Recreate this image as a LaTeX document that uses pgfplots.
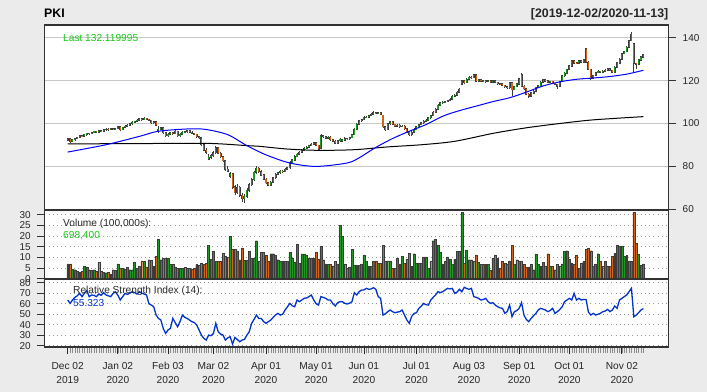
\documentclass[border=0pt]{standalone}
\usepackage{pgfplots}
\pgfplotsset{compat=1.18}
\usepackage{pgfplotstable}
\usepackage{fontspec}
\setmainfont{Liberation Sans}
\definecolor{bg}{RGB}{235,235,235}
\definecolor{upc}{RGB}{34,150,34}
\definecolor{dnc}{RGB}{210,100,30}
\definecolor{wick}{RGB}{60,60,60}
\definecolor{gridc}{RGB}{200,200,200}
\definecolor{rsic}{RGB}{0,51,204}
\definecolor{txtgreen}{RGB}{20,200,20}

\pgfplotstableread{
i o h l c v r
0 92.3 93.4 91.8 93.0 6.9 63.5
1 93.0 93.3 91.2 91.6 6.9 60.3
2 91.6 92.9 91.3 92.4 4.5 63.5
3 92.4 93.4 92.0 93.0 4.2 66.0
4 93.0 93.9 92.7 93.6 3.4 67.5
5 93.6 94.7 93.3 94.3 3.0 69.8
6 94.3 94.7 93.7 94.1 3.4 66.7
7 94.1 95.2 93.8 94.8 5.8 70.0
8 94.8 95.8 94.4 95.4 5.5 72.4
9 95.4 95.8 94.8 95.2 4.2 66.7
10 95.2 96.2 94.9 95.8 4.0 68.3
11 95.8 96.7 95.5 96.3 4.2 68.0
12 96.3 96.6 95.5 95.9 3.6 66.7
13 95.9 97.0 95.6 96.6 7.8 69.2
14 96.6 96.9 96.0 96.3 3.4 68.0
15 96.3 97.4 96.0 97.0 3.0 70.5
16 97.0 97.8 96.7 97.4 2.8 68.3
17 97.4 97.7 96.8 97.2 3.0 67.5
18 97.2 98.0 96.9 97.6 2.2 66.7
19 97.6 97.9 96.9 97.3 4.2 69.8
20 97.3 98.0 97.0 97.6 4.0 71.4
21 97.6 99.0 97.3 98.6 6.9 68.0
22 98.6 98.8 96.8 97.2 5.0 63.5
23 97.2 98.6 96.9 98.2 5.0 66.7
24 98.2 99.2 97.9 98.8 4.5 69.8
25 98.8 99.6 98.4 99.2 5.2 68.9
26 99.2 100.2 98.9 99.8 4.2 70.0
27 99.8 101.0 99.5 100.6 4.2 71.4
28 100.6 101.4 100.2 101.0 7.8 70.5
29 101.0 102.0 100.7 101.6 5.0 69.2
30 101.6 102.7 101.3 102.2 5.8 71.4
31 102.2 102.6 101.4 101.8 8.4 70.0
32 101.8 102.9 101.5 102.4 8.0 69.2
33 102.4 102.7 101.5 101.9 5.5 68.3
34 101.9 102.2 101.1 101.5 8.9 60.0
35 101.5 101.8 100.0 100.4 8.6 58.7
36 100.4 101.3 100.0 100.8 6.0 57.1
37 100.8 101.1 98.8 99.2 10.5 49.2
38 96.8 99.0 95.6 97.4 18.6 46.0
39 97.4 98.5 97.0 98.0 8.9 44.4
40 98.0 98.3 95.4 95.8 9.7 36.5
41 95.8 96.2 93.6 94.2 9.7 31.7
42 94.2 95.4 93.8 95.0 9.4 35.0
43 95.0 96.2 94.7 95.8 6.6 36.5
44 95.8 96.2 94.9 95.3 6.6 46.0
45 95.3 96.8 95.0 96.3 5.5 42.0
46 96.3 96.6 93.8 94.2 4.8 38.1
47 94.2 95.4 93.9 95.0 5.0 42.9
48 95.0 96.3 94.7 95.9 4.8 49.2
49 95.9 96.5 95.5 96.1 5.2 47.0
50 96.1 96.9 95.8 96.5 5.0 46.0
51 96.5 96.8 95.6 96.0 5.0 44.4
52 96.0 96.3 95.0 95.4 4.5 42.9
53 95.4 95.8 94.6 95.0 5.0 42.0
54 95.0 95.3 93.4 93.8 6.6 39.7
55 93.8 94.2 92.9 93.3 6.2 34.9
56 93.3 93.6 89.8 90.2 7.3 30.0
57 90.2 90.6 87.0 87.6 6.6 27.0
58 87.6 88.4 86.0 86.5 7.3 25.4
59 83.4 85.6 82.8 84.2 15.6 30.2
60 84.2 85.6 83.6 85.0 9.0 29.5
61 85.0 87.0 84.6 86.4 12.8 31.7
62 86.4 89.4 86.0 88.8 8.1 41.3
63 88.8 89.0 85.8 86.2 8.1 33.3
64 86.2 86.6 84.0 84.5 8.1 31.0
65 84.5 85.0 82.0 82.6 12.0 30.2
66 82.6 83.0 78.0 78.6 10.5 25.4
67 78.6 80.4 77.2 77.8 10.0 27.5
68 75.5 77.6 74.8 76.6 19.8 28.6
69 76.6 77.0 69.6 70.4 13.6 21.6
70 70.4 71.2 66.8 67.8 13.6 27.9
71 67.8 71.6 67.0 70.2 13.0 26.0
72 70.2 70.8 65.8 66.5 8.9 23.8
73 66.5 67.4 63.2 65.0 14.4 25.4
74 65.0 67.0 63.0 66.2 8.6 26.0
75 66.2 70.0 65.4 68.9 8.6 30.0
76 68.9 72.4 68.0 71.5 12.8 33.3
77 71.5 74.6 70.8 73.8 9.5 41.3
78 73.8 77.8 73.2 77.2 9.5 45.0
79 77.2 80.2 76.6 79.2 17.8 49.2
80 79.2 79.8 77.0 77.6 8.1 46.0
81 77.6 78.2 75.4 76.0 12.3 46.0
82 76.0 76.5 73.6 74.1 12.3 43.0
83 74.1 74.6 71.8 72.3 11.0 41.3
84 72.3 72.8 70.8 71.3 8.1 42.9
85 71.3 73.2 70.9 72.6 11.7 44.4
86 72.6 75.3 72.2 74.8 11.7 47.0
87 74.8 76.9 74.3 76.4 11.0 49.2
88 76.4 77.6 75.8 77.0 8.9 50.8
89 77.0 78.4 76.6 77.8 8.1 49.2
90 77.8 78.2 77.0 77.5 8.1 50.0
91 77.5 79.1 77.2 78.6 8.1 54.0
92 78.6 79.8 78.2 79.3 8.1 57.1
93 79.3 82.3 79.0 81.8 12.3 60.3
94 81.8 83.6 81.4 83.0 9.7 58.0
95 83.0 85.2 82.6 84.6 7.5 57.1
96 84.6 86.2 84.2 85.6 16.2 63.5
97 85.6 87.2 85.2 86.6 7.3 61.9
98 86.6 88.2 86.2 87.6 11.6 63.5
99 87.6 88.9 87.2 88.4 11.6 65.1
100 88.4 89.4 88.0 88.9 11.0 65.5
101 88.9 90.2 88.5 89.7 9.7 66.7
102 89.7 90.9 89.3 90.4 9.7 68.3
103 90.4 91.4 90.0 90.9 9.7 63.5
104 90.9 91.2 89.4 89.8 12.3 60.0
105 89.8 90.2 87.4 88.0 9.0 58.7
106 88.4 95.0 88.0 94.3 15.2 66.7
107 94.3 94.8 93.2 93.8 8.9 66.0
108 93.8 94.2 92.6 93.1 7.0 65.1
109 93.1 94.2 92.8 93.6 6.6 63.5
110 93.6 94.0 92.0 92.4 6.6 63.5
111 92.4 92.8 91.3 91.8 6.0 60.0
112 91.8 92.2 90.4 90.9 8.1 57.8
113 90.9 92.5 90.6 92.0 7.0 61.0
114 92.0 93.3 91.6 92.7 25.0 61.9
115 91.8 93.0 91.5 92.3 19.8 61.9
116 92.3 93.5 92.0 93.0 6.6 60.3
117 93.0 93.3 92.4 92.8 5.0 59.7
118 92.8 93.9 92.5 93.4 5.5 60.5
119 93.4 95.3 93.1 94.8 13.9 61.9
120 94.8 97.9 94.5 97.4 6.3 70.5
121 97.4 100.1 97.1 99.6 6.3 68.3
122 99.6 101.7 99.3 101.2 6.3 71.4
123 101.2 102.3 100.8 101.8 7.0 73.0
124 101.8 103.3 101.5 102.8 11.2 73.0
125 102.8 103.5 102.4 103.0 8.1 74.6
126 103.0 104.1 102.7 103.6 5.8 73.7
127 103.6 104.8 103.3 104.3 5.8 74.0
128 104.3 105.6 104.0 105.1 8.4 75.2
129 105.1 105.5 104.3 104.7 8.4 73.7
130 104.7 105.5 104.3 105.0 7.3 66.7
131 105.0 105.3 103.8 104.2 7.3 65.1
132 103.8 104.0 97.8 98.4 15.6 49.2
133 98.4 98.8 96.6 97.2 8.4 50.5
134 97.2 100.3 96.9 99.8 8.4 52.4
135 99.8 101.4 99.4 100.8 8.4 54.0
136 100.8 101.2 99.2 99.6 5.0 52.4
137 99.6 100.0 98.3 98.7 5.0 51.4
138 98.7 99.7 98.4 99.2 9.7 52.0
139 99.2 99.6 98.1 98.5 7.0 52.4
140 98.5 99.3 98.2 98.8 10.5 54.0
141 98.8 99.2 97.1 97.5 7.3 49.2
142 97.5 97.9 95.8 96.2 9.0 44.4
143 96.2 96.6 94.0 94.8 12.0 41.3
144 94.8 96.5 94.4 96.0 5.8 48.0
145 96.0 97.7 95.7 97.2 11.7 50.8
146 97.2 98.9 96.9 98.4 7.3 51.4
147 98.4 99.9 98.1 99.4 7.3 55.6
148 99.4 100.8 99.1 100.3 7.3 57.5
149 100.3 101.5 100.0 101.0 10.2 60.3
150 101.0 102.1 100.7 101.6 10.2 59.0
151 101.6 103.1 101.3 102.6 5.0 58.7
152 102.6 104.1 102.3 103.6 8.0 63.5
153 103.6 105.7 103.3 105.2 17.8 66.0
154 105.2 107.1 104.9 106.6 18.3 68.3
155 106.6 109.1 106.3 108.6 15.9 71.4
156 108.6 110.2 108.3 109.7 12.5 70.5
157 109.7 110.4 109.3 109.9 6.9 71.5
158 109.9 110.7 109.5 110.2 8.0 73.0
159 110.2 111.1 109.9 110.6 10.2 74.6
160 110.6 111.9 110.3 111.4 9.2 74.0
161 111.4 113.1 111.1 112.6 6.6 74.6
162 112.6 113.7 112.3 113.2 9.0 69.8
163 113.2 115.1 112.8 114.6 12.8 71.0
164 114.6 116.5 114.2 116.0 12.8 73.7
165 118.4 120.4 117.8 119.8 31.0 71.4
166 119.8 120.2 118.6 119.0 7.3 75.6
167 119.0 121.1 118.7 120.6 13.3 74.5
168 120.6 122.1 120.3 121.6 8.9 73.7
169 121.6 122.0 121.0 121.4 8.9 74.6
170 121.4 123.1 121.1 122.6 8.0 66.7
171 122.6 123.0 119.4 119.8 11.2 66.0
172 119.8 120.8 119.5 120.3 7.7 65.1
173 120.3 120.6 119.2 119.6 6.6 63.5
174 119.6 120.3 119.3 119.9 6.6 64.0
175 119.9 120.2 119.1 119.5 6.6 65.1
176 119.5 120.3 119.2 119.9 6.6 61.9
177 119.9 120.2 118.9 119.3 3.8 60.3
178 119.3 120.2 119.0 119.8 9.7 61.0
179 119.8 120.1 118.8 119.2 11.2 58.7
180 119.2 119.5 118.2 118.6 9.7 57.1
181 118.6 118.9 118.0 118.4 5.0 56.0
182 118.4 118.7 117.4 117.8 8.1 55.6
183 117.8 118.1 116.8 117.2 7.3 50.8
184 117.2 117.5 116.2 116.6 7.0 52.5
185 116.6 119.5 116.3 119.0 8.4 58.7
186 119.0 119.3 112.6 115.8 15.5 47.6
187 115.8 117.7 115.5 117.2 6.6 52.4
188 117.2 118.9 116.9 118.4 8.9 53.5
189 118.4 121.2 118.1 120.8 8.0 55.6
190 122.8 123.6 117.0 117.4 8.4 61.0
191 117.4 117.8 115.8 116.2 6.6 49.2
192 116.2 116.6 113.2 113.6 5.3 45.0
193 113.6 114.0 112.0 112.8 5.5 42.9
194 112.8 114.6 112.5 114.2 6.6 46.0
195 114.2 115.4 113.9 115.0 4.2 48.5
196 115.0 117.2 114.7 116.8 11.6 50.8
197 116.8 118.0 116.5 117.6 6.6 54.0
198 117.6 119.6 117.3 119.2 6.0 55.6
199 119.2 120.8 118.9 120.4 7.7 54.8
200 120.4 120.7 119.4 119.8 6.0 54.0
201 119.8 120.1 118.8 119.2 11.7 52.4
202 119.2 120.0 118.9 119.6 6.0 53.5
203 119.6 119.9 118.4 118.8 5.8 55.6
204 118.8 119.1 117.8 118.2 4.2 50.8
205 118.2 118.5 116.0 117.4 6.6 52.4
206 117.4 120.0 117.1 119.6 5.8 54.5
207 119.6 122.6 119.3 122.2 7.0 57.1
208 122.2 123.8 121.9 123.4 12.8 61.9
209 123.4 125.6 123.1 125.2 13.1 63.5
210 125.2 127.2 124.9 126.8 9.1 65.1
211 126.8 129.6 126.5 129.2 7.3 63.5
212 129.2 129.5 127.8 128.2 7.0 69.8
213 128.2 128.5 127.6 128.0 11.2 63.5
214 128.0 129.6 127.7 129.2 5.0 65.1
215 129.2 129.5 128.2 128.6 7.3 63.5
216 128.6 130.2 128.3 129.8 8.0 64.0
217 134.8 135.2 128.2 128.6 13.6 64.0
218 128.6 129.0 124.8 125.2 14.4 52.0
219 125.2 125.6 120.1 121.0 13.1 49.2
220 121.0 122.8 120.6 122.4 5.8 50.8
221 122.4 124.0 122.1 123.6 7.0 49.2
222 123.6 124.7 123.3 124.3 11.7 50.0
223 124.3 124.6 123.4 123.8 8.1 50.8
224 123.8 124.8 123.5 124.4 5.8 52.4
225 124.4 125.3 124.1 124.9 8.1 53.0
226 124.9 125.8 124.6 125.4 6.0 54.6
227 125.4 125.7 124.4 124.8 5.8 52.4
228 124.8 125.1 123.4 123.8 10.5 54.0
229 123.8 126.6 123.5 126.2 12.0 57.8
230 126.2 128.6 125.9 128.2 15.6 55.6
231 128.2 130.4 127.9 130.0 15.2 63.5
232 130.0 133.0 129.7 132.6 15.2 65.0
233 132.6 133.8 132.3 133.4 10.5 66.7
234 133.4 136.0 133.1 135.6 10.8 68.3
235 135.6 139.0 135.3 138.6 8.4 71.4
236 138.6 142.6 138.3 141.6 8.1 74.6
237 137.2 137.6 123.9 128.0 31.25 47.6
238 128.0 128.4 125.5 127.6 16.7 49.2
239 127.6 130.0 127.2 129.6 11.6 51.5
240 129.6 131.4 129.2 131.0 6.25 54.0
241 131.0 132.6 130.6 132.12 6.984 55.323
}\pk

\begin{document}
\begin{tikzpicture}
\fill[bg] (0bp,0bp) rectangle (707bp,392bp);
\useasboundingbox (0bp,0bp) rectangle (707bp,392bp);
\pgfplotsset{
  every axis/.append style={
    scale only axis, width=624.4bp, xmin=-9.8, xmax=251.6,
    axis line style={draw=black!80, line width=1.2bp},
    axis background/.style={fill=white},
    tick align=outside,
    /pgf/number format/assume math mode=true,
    tick label style={font=\fontsize{10}{12}\selectfont, text=black!85},
    major tick length=7bp,
    ytick style={draw=black!80, line width=0.8bp},
  }
}
% ---------------- main price panel
\begin{axis}[at={(44.3bp,182bp)}, anchor=south west, height=185bp,
  ymin=59.7, ymax=145.9, xtick=\empty,
  ytick={60,80,...,140}, ytick pos=right, yticklabel pos=right,
  yticklabel style={xshift=3.5bp},
  ymajorgrids, grid style={draw=gridc, line width=0.9bp}]
% wicks
\addplot[draw=none, mark=none, forget plot,
  error bars/.cd, y dir=both, y explicit, error mark=none,
  error bar style={draw=wick, line width=0.7bp}]
  table[x=i, y=c, y error plus expr=\thisrow{h}-\thisrow{c},
        y error minus expr=\thisrow{c}-\thisrow{l}] {\pk};
% up bodies
\addplot[draw=none, mark=none, forget plot,
  restrict expr to domain={\thisrow{c}-\thisrow{o}}{0:1000},
  error bars/.cd, y dir=minus, y explicit, error mark=none,
  error bar style={draw=wick, line width=2.0bp}]
  table[x=i, y expr=\thisrow{c}+0.25, y error minus expr=\thisrow{c}-\thisrow{o}+0.5] {\pk};
\addplot[draw=none, mark=none, forget plot,
  restrict expr to domain={\thisrow{c}-\thisrow{o}}{0:1000},
  error bars/.cd, y dir=minus, y explicit, error mark=none,
  error bar style={draw=upc, line width=1.1bp}]
  table[x=i, y=c, y error minus expr=\thisrow{c}-\thisrow{o}] {\pk};
% down bodies
\addplot[draw=none, mark=none, forget plot,
  restrict expr to domain={\thisrow{o}-\thisrow{c}}{0.0001:1000},
  error bars/.cd, y dir=plus, y explicit, error mark=none,
  error bar style={draw=wick, line width=2.0bp}]
  table[x=i, y expr=\thisrow{c}-0.25, y error plus expr=\thisrow{o}-\thisrow{c}+0.5] {\pk};
\addplot[draw=none, mark=none, forget plot,
  restrict expr to domain={\thisrow{o}-\thisrow{c}}{0.0001:1000},
  error bars/.cd, y dir=plus, y explicit, error mark=none,
  error bar style={draw=dnc, line width=1.1bp}]
  table[x=i, y=c, y error plus expr=\thisrow{o}-\thisrow{c}] {\pk};
% SMA 200 (black)
\addplot[black, line width=1bp, smooth, mark=none] coordinates {
(0,90.5) (20,90.6) (40,90.7) (60,90.7) (75,89.7) (80,89.4) (92,88.1) (105,87.5) (120,87.8) (134,89.1) (148,90.1) (162,91.7) (178,95.4) (192,98.0) (206,100.0) (220,101.7) (241,103.2)};
% SMA 50 (blue)
\addplot[blue, line width=1bp, smooth, mark=none] coordinates {
(0,86.7) (16,90.1) (30,94.0) (38,96.4) (51,97.5) (58,97.2) (67,94.8) (75,89.7) (83,85.4) (93,81.6) (104,80.0) (117,81.6) (122,84.0) (126,86.8) (130,89.5) (136,93.0) (143,96.4) (150,99.5) (157,103.4) (164,106.0) (171,108.1) (178,110.2) (185,112.0) (192,114.6) (199,117.5) (206,119.4) (213,120.6) (220,121.2) (227,121.9) (234,123.0) (241,124.8)};
\end{axis}
% ---------------- volume panel
\begin{axis}[at={(44.3bp,113bp)}, anchor=south west, height=69bp,
  ymin=-0.14, ymax=32.2, xtick=\empty,
  ytick={0,5,...,30}, ytick pos=left, yticklabel style={xshift=-3bp},
  ymajorgrids, grid style={draw=black!40, line width=0.8bp, dash pattern=on 0.9bp off 3.3bp}]
\addplot[ybar, bar shift=0pt, bar width=1.9bp, fill=upc, draw=wick, line width=0.4bp,
  restrict expr to domain={\thisrow{c}-\thisrow{o}}{0:1000}]
  table[x=i, y=v] {\pk};
\addplot[ybar, bar shift=0pt, bar width=1.9bp, fill=dnc, draw=wick, line width=0.4bp,
  restrict expr to domain={\thisrow{o}-\thisrow{c}}{0.0001:1000}]
  table[x=i, y=v] {\pk};
\end{axis}
% ---------------- RSI panel
\begin{axis}[at={(44.3bp,45bp)}, anchor=south west, height=68bp,
  ymin=18.8, ymax=83.5,
  ytick={20,30,...,80}, ytick pos=left, yticklabel style={xshift=-3bp},
  ymajorgrids, grid style={draw=black!40, line width=0.8bp, dash pattern=on 0.9bp off 3.3bp},
  xtick={0,21,42,61,83,104,124,146,168,189,210,232},
  xticklabels={{Dec 02\\2019},{Jan 02\\2020},{Feb 03\\2020},{Mar 02\\2020},{Apr 01\\2020},{May 01\\2020},{Jun 01\\2020},{Jul 01\\2020},{Aug 03\\2020},{Sep 01\\2020},{Oct 01\\2020},{Nov 02\\2020}},
  xticklabel style={align=center, font=\fontsize{10.2}{14}\selectfont, text=black!85, yshift=-4.5bp},
  minor xtick={0,1,...,241}, xtick pos=bottom,
  minor tick length=6bp,
  major x tick style={draw=black!85, line width=0.8bp},
  minor x tick style={draw=black!45, line width=0.45bp}]
\addplot[rsic, line width=1.3bp, mark=none] table[x=i, y=r] {\pk};
\end{axis}
% ---------------- titles and labels
\node[anchor=base west, inner sep=0, font=\bfseries\fontsize{12.4}{14}\selectfont] at (44bp,374.7bp) {PKI};
\node[anchor=base east, inner sep=0, font=\bfseries\fontsize{12.4}{14}\selectfont, text=black!85] at (668.5bp,374.7bp) {[2019-12-02/2020-11-13]};
\node[anchor=west, inner sep=0, font=\fontsize{10.2}{12}\selectfont, text=txtgreen] at (63bp,354bp) {Last 132.119995};
\node[anchor=west, inner sep=0, font=\fontsize{10.2}{12}\selectfont, text=black!85] at (63bp,168bp) {Volume (100,000s):};
\node[anchor=west, inner sep=0, font=\fontsize{10.2}{12}\selectfont, text=txtgreen] at (63bp,156.5bp) {698,400};
\node[anchor=west, inner sep=0, font=\fontsize{10.2}{12}\selectfont, text=black!85] at (73bp,101.5bp) {Relative Strength Index (14):};
\node[anchor=west, inner sep=0, font=\fontsize{10.2}{12}\selectfont, text=rsic] at (73bp,89bp) {55.323};
\end{tikzpicture}
\end{document}
